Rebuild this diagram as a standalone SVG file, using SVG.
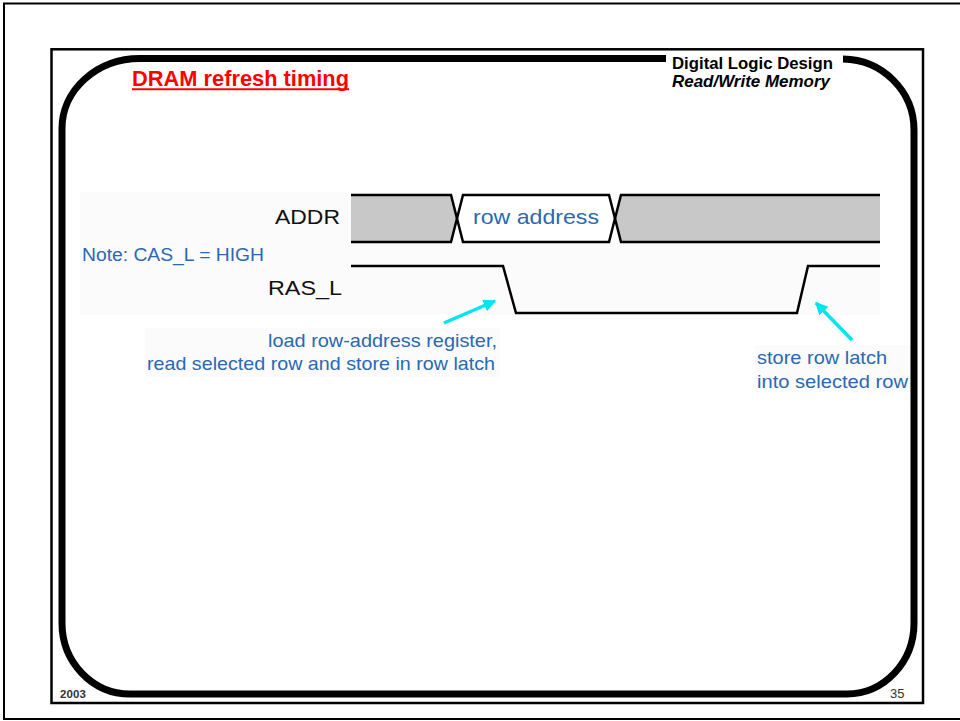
<svg xmlns="http://www.w3.org/2000/svg" width="960" height="721" viewBox="0 0 960 721">
<defs>
<style>
.t{font-family:"Liberation Sans",Arial,sans-serif}
.blue{fill:#2a68b2}
.blk{fill:#111}
.sig{fill:none;stroke:#000;stroke-width:2.5;stroke-linejoin:miter}
.arr{stroke:#00e5ee;stroke-width:3.5;fill:none}
.faint{fill:#fbfbfc}
</style>
<marker id="ah" viewBox="0 0 10 10" refX="9" refY="5" markerWidth="3.6" markerHeight="3.6" orient="auto" markerUnits="strokeWidth">
<path d="M0,0 L10,5 L0,10 z" fill="#00e5ee"/>
</marker>
</defs>
<rect width="960" height="721" fill="#fff"/>
<g id="frame">
<rect x="4" y="3.5" width="970" height="715.5" fill="none" stroke="#000" stroke-width="2"/>
<rect x="51.5" y="49.3" width="871.5" height="653.7" fill="none" stroke="#000" stroke-width="2.5"/>
<path d="M666,58.5 L140,58.5 A78,70 0 0 0 62,128.5 L62,623 A68,71 0 0 0 130,694 L847,694 A67,71 0 0 0 914,623 L914,130 A72,71 0 0 0 843,59" fill="none" stroke="#000" stroke-width="7"/>
<text class="t" x="60" y="697.5" font-size="11.5" font-weight="bold" fill="#333" textLength="26">2003</text>
<text class="t" x="890" y="697.5" font-size="13" fill="#333">35</text>
</g>
<g id="header">
<text class="t" x="672" y="68.5" font-size="16.5" font-weight="bold" fill="#000" textLength="161" lengthAdjust="spacingAndGlyphs">Digital Logic Design</text>
<text class="t" x="672" y="86.5" font-size="16.5" font-weight="bold" font-style="italic" fill="#000" textLength="158" lengthAdjust="spacingAndGlyphs">Read/Write Memory</text>
</g>
<g id="title">
<text class="t" x="132" y="86" font-size="21.5" font-weight="bold" fill="#ff0000" textLength="217" lengthAdjust="spacingAndGlyphs">DRAM refresh timing</text>
<line x1="132" y1="89.2" x2="349" y2="89.2" stroke="#ff0000" stroke-width="2"/>
</g>
<g id="backgrounds">
<rect class="faint" x="80" y="192" width="800" height="123"/>
<rect class="faint" x="145" y="328" width="355" height="49"/>
<rect class="faint" x="755" y="345" width="155" height="47"/>
</g>
<g id="addr">
<text class="t blk" x="275" y="224" font-size="21" textLength="65" lengthAdjust="spacingAndGlyphs">ADDR</text>
<path d="M351,195 L451,195 L457,218.5 L451,242 L351,242 Z" fill="#c8c8c8"/>
<path d="M621,195 L880,195 L880,242 L621,242 L615,218.5 Z" fill="#c8c8c8"/>
<path d="M463,195 L609,195 L615,218.5 L609,242 L463,242 L457,218.5 Z" fill="#fff"/>
<path class="sig" d="M351,195 L451,195 L463,242 L609,242 L621,195 L880,195"/>
<path class="sig" d="M351,242 L451,242 L463,195 L609,195 L621,242 L880,242"/>
<text class="t blue" x="473" y="224" font-size="21" textLength="126" lengthAdjust="spacingAndGlyphs">row address</text>
</g>
<g id="note">
<text class="t blue" x="82" y="261" font-size="18" textLength="182" lengthAdjust="spacingAndGlyphs">Note: CAS_L = HIGH</text>
</g>
<g id="ras">
<text class="t blk" x="268" y="295" font-size="21" textLength="74" lengthAdjust="spacingAndGlyphs">RAS_L</text>
<path class="sig" d="M351,266 L503,266 L516,313 L797,313 L808,266 L880,266"/>
</g>
<g id="label-load">
<text class="t blue" x="268" y="346.5" font-size="19" textLength="229" lengthAdjust="spacingAndGlyphs">load row-address register,</text>
<text class="t blue" x="147" y="370" font-size="19" textLength="348" lengthAdjust="spacingAndGlyphs">read selected row and store in row latch</text>
</g>
<g id="label-store">
<text class="t blue" x="757" y="364" font-size="19" textLength="130" lengthAdjust="spacingAndGlyphs">store row latch</text>
<text class="t blue" x="757" y="388" font-size="19" textLength="151" lengthAdjust="spacingAndGlyphs">into selected row</text>
</g>
<g id="connectors">
<line class="arr" x1="444" y1="323" x2="495" y2="301" marker-end="url(#ah)"/>
<line class="arr" x1="852" y1="340" x2="816" y2="303" marker-end="url(#ah)"/>
</g>
</svg>
